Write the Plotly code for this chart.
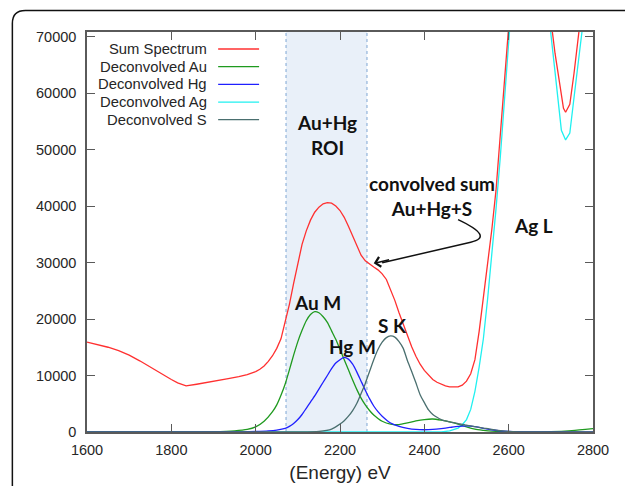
import plotly.graph_objects as go

# ---------------- data ----------------
sum_E = [1600, 1625, 1650, 1675, 1700, 1725, 1750, 1775, 1800, 1815, 1835, 1860, 1885, 1910,
         1935, 1960, 1980, 2000, 2010, 2020, 2030, 2040, 2050, 2060, 2070, 2080, 2090, 2100,
         2110, 2120, 2130, 2140, 2150, 2160, 2170, 2180, 2190, 2200, 2210, 2220, 2230, 2240,
         2250, 2260, 2270, 2280, 2290, 2300, 2310, 2320, 2330, 2340, 2350, 2360, 2370, 2380,
         2390, 2400, 2410, 2420, 2430, 2440, 2450, 2460, 2470, 2480, 2490, 2500, 2510, 2520,
         2530, 2540, 2550, 2560, 2570, 2580, 2590, 2600, 2620, 2650, 2680, 2700, 2710, 2720,
         2730, 2735, 2745, 2755, 2765, 2775, 2790, 2800]
sum_counts = [15900, 15500, 15000, 14400, 13600, 12600, 11500, 10300, 9300, 8700, 8150, 8450, 8750, 9100,
              9450, 9800, 10150, 10700, 11100, 11700, 12500, 13500, 14800, 16500, 19600, 22600, 26300, 30000,
              33200, 35600, 37500, 38900, 39800, 40400, 40600, 40500, 40000, 39200, 38000, 36400, 34600, 32800,
              31300, 30300, 29700, 29200, 28700, 28000, 27000, 25300, 23300, 21100, 19000, 17000, 15100, 13400,
              12000, 10900, 10000, 9300, 8800, 8400, 8150, 8000, 7950, 8000, 8300, 9000, 10300, 12800,
              17800, 23500, 29300, 35800, 42800, 53000, 63000, 73000, 100000, 120000, 100000, 73000, 67000, 62000,
              57300, 56600, 58000, 63500, 69200, 75000, 85000, 92000]

au_E = [1600, 1850, 1900, 1950, 1980, 2000, 2020, 2040, 2050, 2060, 2070, 2080, 2090, 2100, 2110,
        2120, 2130, 2140, 2150, 2160, 2170, 2180, 2190, 2200, 2210, 2220, 2230, 2240, 2250, 2260,
        2270, 2280, 2290, 2300, 2320, 2340, 2360, 2380, 2400, 2420, 2440, 2460, 2480, 2500, 2520,
        2540, 2560, 2600, 2650, 2700, 2750, 2800]
au_counts = [0, 0, 50, 200, 450, 900, 1900, 3600, 4800, 6500, 8500, 11000, 13600, 16000, 18000,
             19700, 20800, 21300, 21100, 20400, 19400, 17900, 16400, 14600, 12800, 11000, 9200, 7500, 6000, 4800,
             3800, 3000, 2400, 1900, 1400, 1300, 1600, 1950, 2200, 2300, 2100, 1800, 1400, 900, 500,
             300, 150, 50, 0, 50, 250, 600]

hg_E = [1600, 1950, 2000, 2030, 2050, 2070, 2080, 2090, 2100, 2110, 2120, 2130, 2140, 2150, 2160,
        2170, 2180, 2190, 2200, 2210, 2220, 2230, 2240, 2250, 2260, 2270, 2280, 2290, 2300, 2320,
        2340, 2360, 2380, 2400, 2420, 2440, 2460, 2480, 2500, 2520, 2540, 2560, 2580, 2600, 2650, 2800]
hg_counts = [0, 0, 100, 200, 350, 650, 1000, 1500, 2200, 3100, 4200, 5300, 6400, 7600, 8800,
             10000, 11200, 12200, 12800, 13200, 12900, 12000, 10600, 9000, 7400, 5900, 4600, 3600, 2800, 1600,
             1000, 650, 450, 400, 450, 600, 800, 1000, 1100, 950, 650, 400, 200, 100, 0, 0]

ag_E = [1600, 2440, 2460, 2470, 2480, 2490, 2500, 2510, 2520, 2530, 2540, 2550, 2560, 2570, 2580,
        2590, 2600, 2620, 2650, 2680, 2700, 2710, 2720, 2725, 2735, 2745, 2755, 2765, 2775, 2790, 2800]
ag_counts = [0, 0, 200, 400, 700, 1300, 2200, 4000, 7200, 11500, 16500, 23500, 31300, 39500, 48500,
             59000, 70000, 100000, 120000, 100000, 70500, 63700, 56800, 53400, 51700, 52900, 59200, 65500, 71800, 81000, 87000]

s_E = [1600, 2100, 2150, 2180, 2200, 2210, 2220, 2230, 2240, 2250, 2260, 2270, 2280, 2290, 2300,
       2310, 2320, 2330, 2340, 2350, 2360, 2370, 2380, 2390, 2400, 2410, 2420, 2430, 2440, 2460,
       2480, 2500, 2520, 2540, 2560, 2580, 2600, 2650, 2800]
s_counts = [0, 0, 100, 500, 1400, 2000, 2800, 3800, 5100, 6800, 8600, 10700, 12800, 14600, 15900,
            16700, 17000, 16800, 16000, 14800, 12600, 10700, 8700, 6600, 5200, 3900, 3100, 2600, 2200, 1800,
            1500, 1200, 950, 700, 450, 250, 100, 0, 0]

series_names = ["Sum Spectrum", "Deconvolved Au", "Deconvolved Hg", "Deconvolved Ag", "Deconvolved S"]
series_colors = ["#ff3030", "#1f9a1f", "#2020ff", "#20f0f0", "#4a6f6f"]
series_shapes = ["linear", "spline", "spline", "linear", "spline"]
series_x = [sum_E, au_E, hg_E, ag_E, s_E]
series_y = [sum_counts, au_counts, hg_counts, ag_counts, s_counts]

roi_range = [2072, 2264]
x_range = [1600, 2800]
y_range = [0, 70800]
x_ticks = [1600, 1800, 2000, 2200, 2400, 2600, 2800]
y_ticks = [0, 10000, 20000, 30000, 40000, 50000, 60000, 70000]

# ---------------- figure ----------------
fig = go.Figure()

# draw order: components first, sum on top like the reference
order = [3, 1, 2, 4, 0]
for i in order:
    fig.add_trace(go.Scatter(
        x=series_x[i], y=series_y[i], mode="lines", name=series_names[i],
        line=dict(color=series_colors[i], width=1.3, shape=series_shapes[i], smoothing=0.6),
        cliponaxis=True, showlegend=False))

# ROI shading
fig.add_shape(type="rect", xref="x", yref="paper", x0=roi_range[0], x1=roi_range[1], y0=0, y1=1,
              fillcolor="#e9f0f9", line=dict(width=0), layer="below")
for xv in roi_range:
    fig.add_shape(type="line", xref="x", yref="paper", x0=xv, x1=xv, y0=0, y1=1,
                  line=dict(color="#7fa6d4", width=1, dash="dot"), layer="below")

# gnuplot-style legend: text right-aligned, sample line on the right
leg_y0 = 0.9575
leg_dy = 0.0442
for k, (nm, col) in enumerate(zip(series_names, series_colors)):
    yy = leg_y0 - k * leg_dy
    fig.add_annotation(xref="paper", yref="paper", x=0.2414, y=yy, text=nm, showarrow=False,
                       xanchor="right", yanchor="middle",
                       font=dict(family="Liberation Sans, Arial", size=14.8, color="#262626"))
    fig.add_shape(type="line", xref="paper", yref="paper", x0=0.2592, x1=0.3401, y0=yy, y1=yy,
                  line=dict(color=col, width=1.3))

# text labels
lab_font = dict(family="Lato, Open Sans", size=19, color="#111111")
labels = [
    ("<b>Au+Hg<br>ROI</b>", 2170, 52500),
    ("<b>convolved sum<br>Au+Hg+S</b>", 2417, 41700),
    ("<b>Ag L</b>", 2658, 36600),
    ("<b>Au M</b>", 2147, 23000),
    ("<b>Hg M</b>", 2230, 15200),
    ("<b>S K</b>", 2324, 18900),
]
for t, xx, yy in labels:
    fig.add_annotation(x=xx, y=yy, text=t, showarrow=False, xanchor="center", yanchor="middle",
                       font=lab_font)

# curved arrow
fig.add_shape(type="path", xref="x", yref="y",
              path="M 2480,37600 Q 2567,34530 2510,33600 L 2300,29950",
              line=dict(color="#111111", width=1.5))
fig.add_annotation(x=2280, y=29850, ax=2320, ay=30550, xref="x", yref="y", axref="x", ayref="y",
                   text="", showarrow=True, arrowhead=4, arrowsize=1.3, arrowwidth=1.5,
                   arrowcolor="#111111", standoff=0)

# outer rounded frame (cut off by the image edges like the reference)
rx, ry = 0.0257, 0.0325
x0p, y1p = -0.1475, 1.0535
fig.add_shape(type="path", xref="paper", yref="paper",
              path=(f"M {x0p},-0.3 L {x0p},{y1p - ry} "
                    f"Q {x0p},{y1p} {x0p + rx},{y1p} L 1.2,{y1p}"),
              line=dict(color="#111111", width=1.5))

axis_common = dict(showgrid=False, zeroline=False, showline=True, linecolor="#5a5a5a", linewidth=1.5,
                   ticks="inside", ticklen=8, tickwidth=1.3, tickcolor="#5a5a5a", mirror="ticks",
                   automargin=False,
                   tickfont=dict(family="Liberation Sans, Arial", size=14.5, color="#262626"))

fig.update_xaxes(range=x_range, tickvals=x_ticks, ticklabelstandoff=4,
                 title=dict(text="(Energy) eV", standoff=9,
                            font=dict(family="Liberation Sans, Arial", size=19, color="#262626")),
                 **axis_common)
fig.update_yaxes(range=y_range, tickvals=y_ticks, tickformat="d", ticklabelstandoff=6, **axis_common)

fig.update_layout(width=625, height=486, margin=dict(l=87, r=32, t=32, b=54),
                  paper_bgcolor="white", plot_bgcolor="white", showlegend=False)

# remove the browser's default body margin so the figure fills the window exactly
fig.write_html("out.html", config={"displayModeBar": False},
               post_script="document.body.style.margin='0px';document.body.style.overflow='hidden';")
